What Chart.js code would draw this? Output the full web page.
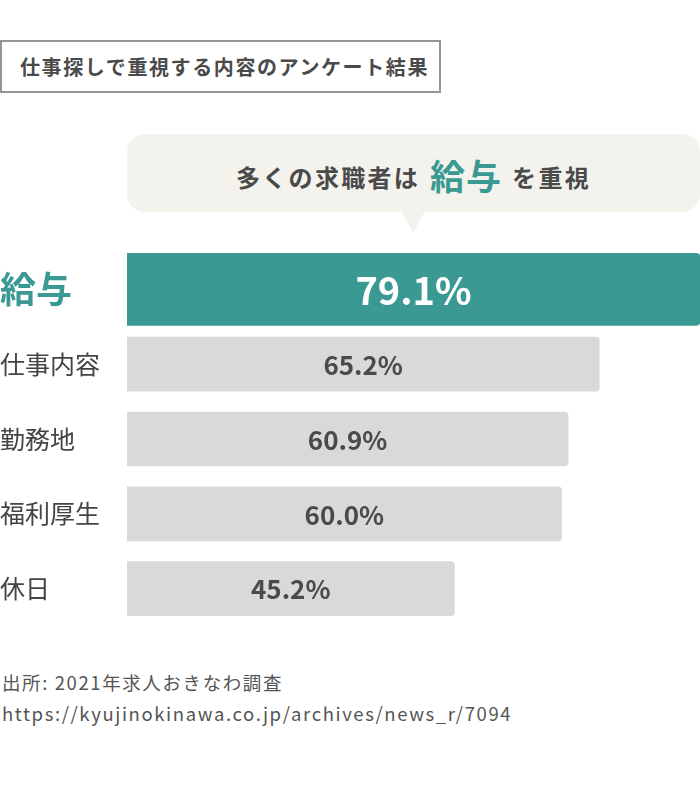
<!DOCTYPE html>
<html lang="ja">
<head>
<meta charset="utf-8">
<script src="https://cdn.jsdelivr.net/npm/chart.js@4.4.1/dist/chart.umd.min.js"></script>
<style>
  html, body { margin: 0; padding: 0; background: #fff; }
  body { width: 700px; height: 800px; position: relative; overflow: hidden;
         font-family: "Noto Sans CJK JP", "Noto Sans", sans-serif; color: #4a4a4a; }
  #title { position: absolute; left: 0; top: 40px; width: 429px; height: 49px; padding-left: 8px;
           border: 2px solid #959595; box-sizing: content-box;
           font-size: 20px; font-weight: bold; letter-spacing: 1.6px; line-height: 49px;
           text-align: center; color: #4a4a4a; white-space: nowrap; }
  #bubble { position: absolute; left: 127px; top: 134px; width: 573px; height: 78px;
            background: #f3f2ec; border-radius: 18px; }
  #bubble-tail { position: absolute; left: 401px; top: 211px; width: 0; height: 0;
                 border-left: 12.5px solid transparent; border-right: 12.5px solid transparent;
                 border-top: 22px solid #f3f2ec; }
  #bubble-text { position: absolute; left: 127px; top: 137px; width: 573px; height: 78px;
                 display: flex; align-items: center; justify-content: center;
                 font-weight: bold; white-space: nowrap; }
  #bubble-text .s { font-size: 24px; letter-spacing: 2.3px; color: #4a4a4a; }
  #bubble-text .k { font-size: 35px; letter-spacing: 1px; color: #3a9a93; margin: -4px 10px 0 10px; }
  #chartbox { position: absolute; left: 0; top: 252px; width: 700px; height: 374px; }
  #source { position: absolute; left: 2px; top: 667px; font-size: 18.5px; letter-spacing: 1.6px;
            line-height: 31px; color: #555; }
</style>
</head>
<body>
<div id="title">仕事探しで重視する内容のアンケート結果</div>
<div id="bubble"></div>
<div id="bubble-tail"></div>
<div id="bubble-text"><span class="s">多くの求職者は</span><span class="k">給与</span><span class="s">を重視</span></div>
<div id="chartbox"><canvas id="c"></canvas></div>
<div id="source">出所: 2021年求人おきなわ調査<br>https://kyujinokinawa.co.jp/archives/news_r/7094</div>
<script>
const categories = ["給与", "仕事内容", "勤務地", "福利厚生", "休日"];
const values = [79.1, 65.2, 60.9, 60.0, 45.2];
const highlightIndex = 0;

const TEAL = "#3a9a93";
const GRAY = "#d9d9d9";
const FONT = '"Noto Sans CJK JP", "Noto Sans", sans-serif';

const highlightData = values.map((v, i) => i === highlightIndex ? v : null);
const otherData = values.map((v, i) => i === highlightIndex ? null : v);

const valueLabels = {
  id: "valueLabels",
  afterDatasetsDraw(chart) {
    const ctx = chart.ctx;
    ctx.save();
    ctx.textAlign = "center";
    ctx.textBaseline = "middle";
    chart.data.datasets.forEach((ds, di) => {
      const meta = chart.getDatasetMeta(di);
      meta.data.forEach((el, j) => {
        const v = ds.data[j];
        if (v === null || v === undefined) return;
        const p = el.getProps(["x", "y", "base"], true);
        if (di === 0) {
          ctx.font = "bold 38px " + FONT;
          ctx.fillStyle = "#ffffff";
        } else {
          ctx.font = "bold 26px " + FONT;
          ctx.fillStyle = "#4a4a4a";
        }
        ctx.fillText(v.toFixed(1) + "%", (p.x + p.base) / 2, p.y + 1);
      });
    });
    ctx.restore();
  }
};

new Chart(document.getElementById("c"), {
  type: "bar",
  data: {
    labels: categories,
    datasets: [
      { data: highlightData, backgroundColor: TEAL, barThickness: 72, borderRadius: 4, grouped: false },
      { data: otherData, backgroundColor: GRAY, barThickness: 54, borderRadius: 4, grouped: false }
    ]
  },
  options: {
    indexAxis: "y",
    responsive: true,
    maintainAspectRatio: false,
    animation: false,
    layout: { padding: 0 },
    plugins: { legend: { display: false }, tooltip: { enabled: false } },
    scales: {
      x: { display: false, min: 0, max: Math.max(...values) },
      y: {
        grid: { display: false },
        border: { display: false },
        afterFit(scale) { scale.width = 127; scale.paddingTop = 0; scale.paddingBottom = 0; },
        ticks: {
          crossAlign: "far",
          padding: 0,
          color: (c) => c.index === highlightIndex ? TEAL : "#444444",
          font: (c) => c.index === highlightIndex
            ? { family: FONT, size: 36, weight: "bold" }
            : { family: FONT, size: 25, weight: "normal" }
        }
      }
    }
  },
  plugins: [valueLabels]
});
</script>
</body>
</html>
